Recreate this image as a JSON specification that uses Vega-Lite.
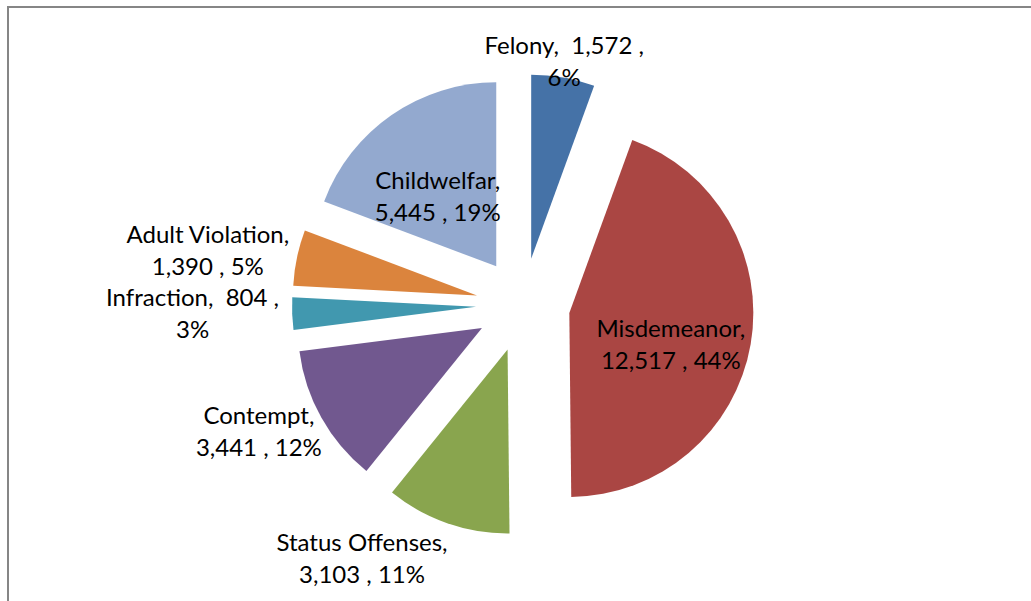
{
  "$schema": "https://vega.github.io/schema/vega-lite/v6.json",
  "width": 1043,
  "height": 614,
  "autosize": "none",
  "padding": {"left": 8, "top": 7, "right": -20, "bottom": -20},
  "background": "white",
  "config": {"view": {"stroke": "#868686", "strokeWidth": 2}},
  "data": {
    "values": [
      {"category": "Felony", "value": 1572, "label": "Felony, \u00a01,572 ,\n6%"},
      {"category": "Misdemeanor", "value": 12517, "label": "Misdemeanor,\n12,517 , 44%"},
      {"category": "Status Offenses", "value": 3103, "label": "Status Offenses,\n3,103 , 11%"},
      {"category": "Contempt", "value": 3441, "label": "Contempt,\n3,441 , 12%"},
      {"category": "Infraction", "value": 804, "label": "Infraction, \u00a0804 ,\n3%"},
      {"category": "Adult Violation", "value": 1390, "label": "Adult Violation,\n1,390 , 5%"},
      {"category": "Childwelfar", "value": 5445, "label": "Childwelfar,\n5,445 , 19%"}
    ]
  },
  "transform": [
    {"window": [{"op": "sum", "field": "value", "as": "cum"}], "frame": [null, 0]},
    {"joinaggregate": [{"op": "sum", "field": "value", "as": "total"}]},
    {"calculate": "(datum.cum - datum.value) / datum.total", "as": "f0"},
    {"calculate": "datum.cum / datum.total", "as": "f1"},
    {"calculate": "sin(PI * (datum.f0 + datum.f1))", "as": "sx"},
    {"calculate": "-cos(PI * (datum.f0 + datum.f1))", "as": "sy"},
    {"calculate": "47 * datum.sx", "as": "ox"},
    {"calculate": "47 * datum.sy", "as": "oy"},
    {"calculate": "datum.value / datum.total > 0.15", "as": "inside"},
    {"calculate": "5.2 * max(length(split(datum.label, '\\n')[0]), length(split(datum.label, '\\n')[1]))", "as": "hw"},
    {"calculate": "datum.inside ? datum.ox + 103 * datum.sx : datum.ox + 190 * datum.sx + datum.hw * (datum.sx < 0 ? -1 : 1) * clamp((abs(datum.sx) - 0.2) * 8, 0, 1)", "as": "lx"},
    {"calculate": "datum.inside ? datum.oy + 103 * datum.sy : datum.oy + 212 * datum.sy - 16 * abs(datum.sx)", "as": "ly"}
  ],
  "layer": [
    {
      "mark": {"type": "arc", "radius": 184},
      "encoding": {
        "x": {"field": "ox", "type": "quantitative", "scale": {"domain": [-100, 100], "range": [415, 615]}, "axis": null},
        "y": {"field": "oy", "type": "quantitative", "scale": {"domain": [-100, 100], "range": [198, 398]}, "axis": null},
        "theta": {"field": "f0", "type": "quantitative", "stack": null, "scale": {"domain": [0, 1], "range": [0, 6.283185307179586]}},
        "theta2": {"field": "f1"},
        "color": {
          "field": "category",
          "type": "nominal",
          "scale": {
            "domain": ["Felony", "Misdemeanor", "Status Offenses", "Contempt", "Infraction", "Adult Violation", "Childwelfar"],
            "range": ["#4572A7", "#AA4643", "#89A54E", "#71588F", "#4198AF", "#DB843D", "#93A9CF"]
          },
          "legend": null
        }
      }
    },
    {
      "mark": {"type": "text", "font": "Lato", "fontSize": 24, "lineHeight": 32, "lineBreak": "\n", "align": "center", "baseline": "middle", "color": "black"},
      "encoding": {
        "x": {"field": "lx", "type": "quantitative", "scale": {"domain": [-100, 100], "range": [415, 615]}, "axis": null},
        "y": {"field": "ly", "type": "quantitative", "scale": {"domain": [-100, 100], "range": [198, 398]}, "axis": null},
        "text": {"field": "label"}
      }
    }
  ]
}
